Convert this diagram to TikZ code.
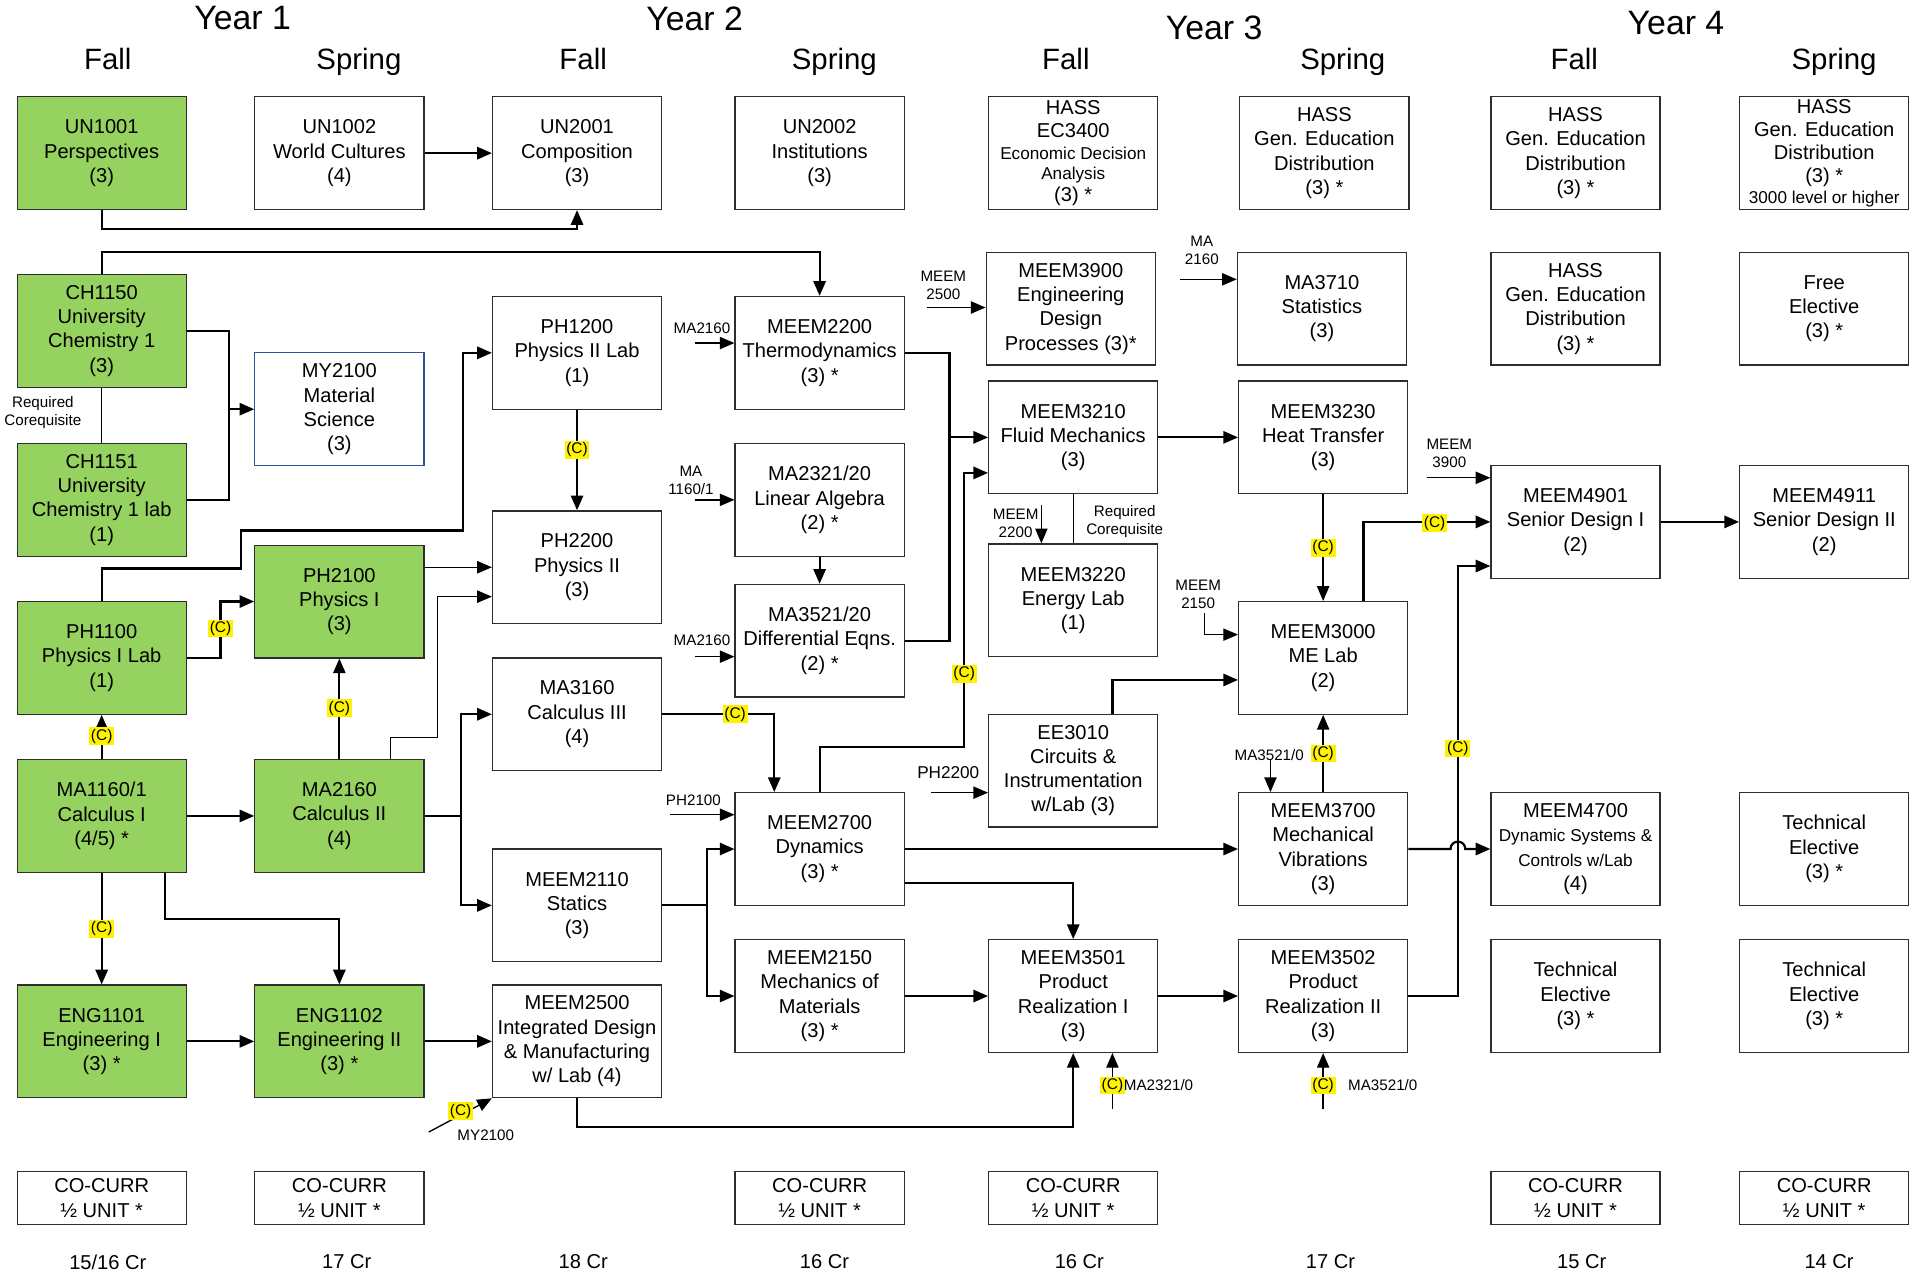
\documentclass[tikz,border=0pt]{standalone}
\usepackage{fontspec}
\setmainfont{Liberation Sans}
\usetikzlibrary{arrows.meta}
\definecolor{coregreen}{RGB}{150,210,95}
\definecolor{boxline}{RGB}{45,45,45}
\definecolor{mylineblue}{RGB}{47,84,150}
\tikzset{
  course/.style={draw=boxline,line width=0.5pt,minimum width=69pt,minimum height=46pt,align=center,inner sep=1pt,font=\fontsize{8.2}{9.9}\selectfont},
  core/.style={course,fill=coregreen},
  tallcourse/.style={course,inner sep=0pt,font=\fontsize{8.2}{9.5}\selectfont},
  cocurr/.style={course,minimum height=21.5pt},
  req/.style={line width=0.9pt,-{Triangle[length=6pt,width=5pt]}},
  thinreq/.style={line width=0.55pt,-{Triangle[length=6pt,width=5pt]}},
  tie/.style={line width=0.55pt},
  conc/.style={fill=yellow,inner sep=0.7pt,font=\fontsize{6.3}{7}\selectfont},
  prereq/.style={align=center,inner sep=0pt,font=\fontsize{6.2}{7.3}\selectfont}
}
\newcommand{\smalltxt}[1]{{\fontsize{7}{8.3}\selectfont #1}}
\begin{document}
\begin{tikzpicture}[x=0.5pt,y=-0.5pt]
\useasboundingbox (0,0) rectangle (1568,1039);
\fill[white] (0,0) rectangle (1568,1039);

\foreach \x/\y/\t in {198/15/1,567/15/2,991/23/3,1368/19/4}
  \node[font=\fontsize{13.8}{16}\selectfont] (year\t) at (\x,\y) {Year \t};
\foreach \x/\s [count=\i] in {88/Fall,293/Spring,476/Fall,681/Spring,870/Fall,1096/Spring,1285/Fall,1497/Spring}
  \node[font=\fontsize{12}{14}\selectfont,anchor=base,inner sep=0pt] (sem\i) at (\x,57) {\s};

\node[core] (un1001) at (83,125) {UN1001\\Perspectives\\(3)};
\node[course] (un1002) at (277,125) {UN1002\\World Cultures\\(4)};
\node[course] (un2001) at (471,125) {UN2001\\Composition\\(3)};
\node[course] (un2002) at (669,125) {UN2002\\Institutions\\(3)};
\node[tallcourse] (hass1) at (876,125) {HASS\\EC3400\\[-0.5pt]\smalltxt{Economic Decision}\\[-1.5pt]\smalltxt{Analysis}\\[-0.5pt](3) *};
\node[course] (hass2) at (1081,125) {HASS\\Gen. Education\\Distribution\\(3) *};
\node[course] (hass3) at (1286,125) {HASS\\Gen. Education\\Distribution\\(3) *};
\node[tallcourse] (hass4) at (1489,125) {HASS\\Gen. Education\\Distribution\\(3) *\\[-1pt]\smalltxt{3000 level or higher}};

\node[core] (ch1150) at (83,270) {CH1150\\University\\Chemistry 1\\(3)};
\node[course,draw=mylineblue] (my2100) at (277,334) {MY2100\\Material\\Science\\(3)};
\node[course] (ph1200) at (471,288) {PH1200\\Physics II Lab\\(1)};
\node[course] (meem2200) at (669,288) {MEEM2200\\Thermodynamics\\(3) *};
\node[course] (meem3900) at (874,252) {MEEM3900\\Engineering\\Design\\Processes (3)*};
\node[course] (ma3710) at (1079,252) {MA3710\\Statistics\\(3)};
\node[course] (hass5) at (1286,252) {HASS\\Gen. Education\\Distribution\\(3) *};
\node[course] (free) at (1489,252) {Free\\Elective\\(3) *};

\node[course] (meem3210) at (876,357) {MEEM3210\\Fluid Mechanics\\(3)};
\node[course] (meem3230) at (1080,357) {MEEM3230\\Heat Transfer\\(3)};
\node[core] (ch1151) at (83,408) {CH1151\\University\\Chemistry 1 lab\\(1)};
\node[course] (ma2321) at (669,408) {MA2321/20\\Linear Algebra\\(2) *};
\node[course] (ph2200) at (471,463) {PH2200\\Physics II\\(3)};
\node[course] (meem3220) at (876,490) {MEEM3220\\Energy Lab\\(1)};
\node[course] (meem4901) at (1286,426) {MEEM4901\\Senior Design I\\(2)};
\node[course] (meem4911) at (1489,426) {MEEM4911\\Senior Design II\\(2)};

\node[core] (ph2100) at (277,491) {PH2100\\Physics I\\(3)};
\node[core] (ph1100) at (83,537) {PH1100\\Physics I Lab\\(1)};
\node[course] (ma3521) at (669,523) {MA3521/20\\Differential Eqns.\\(2) *};
\node[course] (meem3000) at (1080,537) {MEEM3000\\ME Lab\\(2)};
\node[course] (ma3160) at (471,583) {MA3160\\Calculus III\\(4)};
\node[course] (ee3010) at (876,629) {EE3010\\Circuits \&\\Instrumentation\\w/Lab (3)};

\node[core] (ma1160) at (83,666) {MA1160/1\\Calculus I\\(4/5) *};
\node[core] (ma2160) at (277,666) {MA2160\\Calculus II\\(4)};
\node[course] (meem2700) at (669,693) {MEEM2700\\Dynamics\\(3) *};
\node[course] (meem3700) at (1080,693) {MEEM3700\\Mechanical\\Vibrations\\(3)};
\node[course] (meem4700) at (1286,693) {MEEM4700\\\smalltxt{Dynamic Systems \&}\\\smalltxt{Controls w/Lab}\\(4)};
\node[course] (tech1) at (1489,693) {Technical\\Elective\\(3) *};

\node[course] (meem2110) at (471,739) {MEEM2110\\Statics\\(3)};
\node[course] (meem2150) at (669,813) {MEEM2150\\Mechanics of\\Materials\\(3) *};
\node[course] (meem3501) at (876,813) {MEEM3501\\Product\\Realization I\\(3)};
\node[course] (meem3502) at (1080,813) {MEEM3502\\Product\\Realization II\\(3)};
\node[course] (tech2) at (1286,813) {Technical\\Elective\\(3) *};
\node[course] (tech3) at (1489,813) {Technical\\Elective\\(3) *};
\node[core] (eng1101) at (83,850) {ENG1101\\Engineering I\\(3) *};
\node[core] (eng1102) at (277,850) {ENG1102\\Engineering II\\(3) *};
\node[course] (meem2500) at (471,850) {MEEM2500\\Integrated Design\\\& Manufacturing\\w/ Lab (4)};

\foreach \x [count=\i] in {83,277,669,876,1286,1489}
  \node[cocurr] (cc\i) at (\x,978) {CO-CURR\\½ UNIT *};
\node[course,draw=none,minimum height=0pt] (cr1) at (88,1030) {15/16 Cr};
\foreach \x/\c [count=\i from 2] in {283/17,476/18,673/16,881/16,1086/17,1291/15,1493/14}
  \node[course,draw=none,minimum height=0pt] (cr\i) at (\x,1030) {\c{} Cr};

\draw[req] (un1002) -- (un2001);
\draw[req] (un1001.south) -- (83,187) -| (un2001.south);
\draw[req] (ch1150.north) -- (83,206) -| (meem2200.north);
\draw[line width=0.9pt] (ch1150.east) -| (187,408) -- (ch1151.east);
\coordinate (chj) at (187,334);
\draw[req] (chj) -- (my2100.west);
\draw[tie] (ch1150) -- (ch1151);
\node[prereq] (coreq1) at (35,337) {Required\\Corequisite};
\draw[req] (ph1100.north) |- (197,464) |- (378,433) |- (ph1200.west);
\draw[req] (ph1100.east) -| (180,491) -- (ph2100.west);
\draw[req] (ma1160) -- (ph1100);
\draw[req] (ma1160) -- (ma2160);
\draw[req] (ma2160) -- (ph2100);
\draw[thinreq] (ma2160.north -| 319,0) |- (357,602) |- (ph2200.west |- 0,487);
\draw[thinreq] (ph2100.east |- ph2200.west) -- (ph2200.west);
\draw[req] (ph1200) -- (ph2200);
\draw[req] (ma2160.east) -- (376,666) |- (ma3160.west);
\draw[req] (376,666) |- (meem2110.west);
\draw[req] (ma1160) -- (eng1101);
\draw[req] (ma1160.south -| 135,0) -- (135,750) -| (eng1102.north);
\draw[req] (eng1101) -- (eng1102);
\draw[req] (eng1102) -- (meem2500);
\coordinate (myin) at (350,924);
\draw[thinreq] (myin) -- (meem2500.south west);
\node[prereq,anchor=north west] (mylbl) at (373,922) {MY2100};
\draw[req] (meem2500.south) -- (471,920) -| (meem3501.south);
\draw[req] (meem2110.east) -- (577,739) |- (meem2700.west);
\draw[req] (577,739) |- (meem2150.west);
\coordinate (ph2100in) at (547,665);
\draw[thinreq] (ph2100in) -- (meem2700.west |- ph2100in);
\node[prereq] (ph2100lbl) at (566,653) {PH2100};
\draw[req] (ma3160.east) -| (meem2700.north -| 632,0);
\draw[req] (meem2700.north) |- (787,610) |- (meem3210.west |- 0,386);
\draw[line width=0.9pt] (meem2200.east) -| (775,523) -- (ma3521.east);
\draw[req] (775,357) -- (meem3210.west);
\draw[req] (ma2321) -- (ma3521);
\coordinate (ma2160in) at (567,280);
\draw[thinreq] (ma2160in) -- (meem2200.west |- ma2160in);
\node[prereq] (ma2160lbl) at (573,268) {MA2160};
\coordinate (ma1160in) at (567,408);
\draw[thinreq] (ma1160in) -- (ma2321.west);
\node[prereq] (ma1160lbl) at (564,392) {MA\\1160/1};
\coordinate (ma2160inb) at (567,536);
\draw[thinreq] (ma2160inb) -- (ma3521.west |- ma2160inb);
\node[prereq] (ma2160lblb) at (573,523) {MA2160};
\coordinate (meem2500in) at (757,251);
\draw[thinreq] (meem2500in) -- (meem3900.west |- meem2500in);
\node[prereq] (meem2500lbl) at (770,233) {MEEM\\2500};
\coordinate (ma2160inc) at (963,228);
\draw[thinreq] (ma2160inc) -- (ma3710.west |- ma2160inc);
\node[prereq] (ma2160lblc) at (981,204) {MA\\2160};
\draw[req] (meem3210) -- (meem3230);
\draw[tie] (meem3210) -- (meem3220);
\node[prereq] (coreq2) at (918,426) {Required\\Corequisite};
\coordinate (meem2200in) at (850,412);
\draw[thinreq] (meem2200in) -- (meem3220.north -| meem2200in);
\node[prereq,anchor=east] (meem2200lbl) at (848,427) {MEEM\\2200};
\draw[thinreq] (meem3230) -- (meem3000);
\coordinate (meem2150in) at (983,500);
\draw[thinreq] (meem2150in) |- (meem3000.west |- 0,518);
\node[prereq] (meem2150lbl) at (978,485) {MEEM\\2150};
\draw[req] (ee3010.north -| 908,0) |- (meem3000.west |- 0,555);
\coordinate (ph2200in) at (760,647);
\draw[thinreq] (ph2200in) -- (ee3010.west |- ph2200in);
\node[prereq,font=\fontsize{7}{8}\selectfont] (ph2200lbl) at (774,631) {PH2200};
\draw[thinreq] (meem3700) -- (meem3000);
\coordinate (ma3521in) at (1037,620);
\draw[thinreq] (ma3521in) -- (meem3700.north -| ma3521in);
\node[prereq] (ma3521lbl) at (1036,616) {MA3521/0};
\draw[req] (meem3000.north -| 1113,0) |- (meem4901.west);
\coordinate (meem3900in) at (1165,390);
\draw[thinreq] (meem3900in) -- (meem4901.west |- meem3900in);
\node[prereq] (meem3900lbl) at (1183,370) {MEEM\\3900};
\draw[req] (meem4901) -- (meem4911);
\draw[req] (meem3502.east) -- (1190,813) |- (meem4901.west |- 0,462);
\draw[req] (meem2700.east) -- (meem3700.west);
\draw[req] (meem3700.east) -- (1184,693) .. controls (1184,685) and (1196,685) .. (1196,693) -- (meem4700.west);
\draw[req] (meem2700.east |- 0,721) -| (meem3501.north);
\draw[req] (meem2150) -- (meem3501);
\draw[req] (meem3501) -- (meem3502);
\coordinate (ma2321in) at (908,905);
\draw[thinreq] (ma2321in) -- (meem3501.south -| ma2321in);
\node[prereq,anchor=west] (ma2321lbl) at (917,886) {MA2321/0};
\coordinate (ma3521inb) at (1080,905);
\draw[thinreq] (ma3521inb) -- (meem3502.south);
\node[prereq,anchor=west] (ma3521lblb) at (1100,886) {MA3521/0};

\foreach \x/\y [count=\i] in {471/367,180/513,83/601,277/578,83/758,376/907,600/583,787/550,1080/447,1080/615,1171/427,1190/611,908/886,1080/886}
  \node[conc] (c\i) at (\x,\y) {(C)};
\end{tikzpicture}
\end{document}
